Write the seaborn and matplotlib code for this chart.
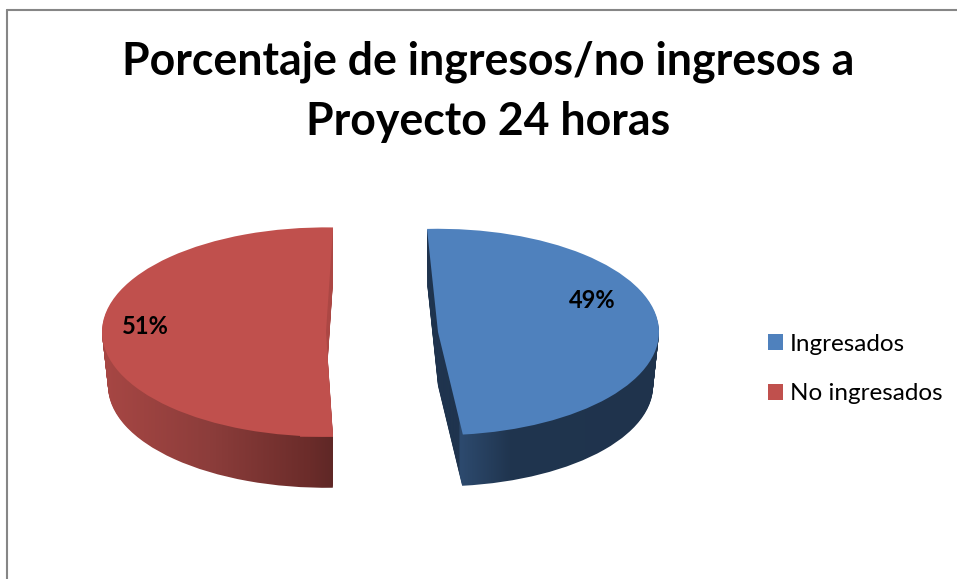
import numpy as np
import matplotlib
matplotlib.use("Agg")
import matplotlib.pyplot as plt
from matplotlib.lines import Line2D
from matplotlib.patches import Patch
from matplotlib.colors import to_rgb
import seaborn as sns

titulo = ["Porcentaje de ingresos/no ingresos a", "Proyecto 24 horas"]
categorias = ["Ingresados", "No ingresados"]
valores = [49, 51]
colores = ["#4F81BD", "#C0504D"]

# lado del pastel: posicion x y color
lado_azul_x = [425, 458, 460, 510, 660]
lado_azul = ["#1F344E", "#1F344E", "#2D4A6E", "#20354F", "#1F334C"]
lado_rojo_x = [100, 210, 310, 335]
lado_rojo = ["#A84744", "#8C3D3B", "#6B2C2A", "#5E2726"]
corte_rojo = "#AC4744"  # cara del corte, arriba de la rebanada roja

W, H = 957, 579
K = 0.467  # aplastamiento vertical del pastel
PROF = 54  # profundidad en pixeles


def py(y):
    return (H - y) / K


sns.set_theme(style="white")
plt.rcParams["font.family"] = ["Lato", "DejaVu Sans"]

fig = plt.figure(figsize=(W / 100, H / 100), dpi=100, facecolor="white")
ax = fig.add_axes([0, 0, 1, 1])


def rebanada(i, cx, cy, radio, inicio, lado_x, lado_c, corte=None):
    # se dibuja una sola rebanada, la otra queda invisible
    def pie(centro, r, color):
        orden = [color if j == i else "none" for j in range(len(valores))]
        w, _ = ax.pie(valores, colors=orden, center=centro, radius=r,
                      startangle=inicio, counterclock=False,
                      wedgeprops={"linewidth": 0})
        return w[i]

    grad = np.array([to_rgb(c) for c in lado_c])
    xs = np.arange(lado_x[0], lado_x[-1] + 1)
    fila = np.stack([np.interp(xs, lado_x, grad[:, c]) for c in range(3)], axis=-1)
    img = np.repeat(fila[None, :, :], H, axis=0)
    if corte is not None:
        img[:437, xs > 300] = to_rgb(corte)

    # capas del lado, de abajo hacia arriba
    for d in range(PROF, 0, -1):
        r = radio * (1 - 0.027 * d / PROF)
        w = pie((cx, py(cy + d)), r, "none")
        im = ax.imshow(img, extent=[lado_x[0], lado_x[-1], py(H), py(0)], aspect="auto",
                       zorder=2 + (PROF - d) * 0.01)
        im.set_clip_path(w)
    w = pie((cx, py(cy)), radio, colores[i])
    w.set_zorder(4)


# cada rebanada tiene su propio giro por la perspectiva del original
rebanada(0, 438, 332, 221, 92.85, lado_azul_x, lado_azul)
rebanada(1, 326, 332, 224, 88.2, lado_rojo_x, lado_rojo, corte_rojo)

ax.set_xlim(0, W)
ax.set_ylim(0, H / K)
ax.set_aspect("auto")
ax.axis("off")

fig.text(488 / W, 1 - 62 / H, titulo[0], ha="center", va="center",
         fontsize=32.1, fontweight="bold", color="black")
fig.text(488 / W, 1 - 122 / H, titulo[1], ha="center", va="center",
         fontsize=32.1, fontweight="bold", color="black")

fig.text(592 / W, 1 - 301 / H, f"{valores[0]}%", ha="center", va="center",
         fontsize=17, fontweight="bold", color="black", zorder=10)
fig.text(145 / W, 1 - 327 / H, f"{valores[1]}%", ha="center", va="center",
         fontsize=17, fontweight="bold", color="black", zorder=10)

handles = [Patch(facecolor=c, edgecolor="none") for c in colores]
fig.legend(handles, categorias, loc="center left", bbox_to_anchor=(746 / W, 1 - 369 / H),
           frameon=False, fontsize=17.5, handlelength=0.62, handleheight=0.62,
           handletextpad=0.3, labelspacing=1.17, labelcolor="black")

# marco del grafico
gris = "#868686"
fig.add_artist(Line2D([7 / W, 7 / W], [0, 1 - 10 / H], color=gris, lw=1.5))
fig.add_artist(Line2D([7 / W, 1], [1 - 10 / H, 1 - 10 / H], color=gris, lw=1.5))

fig.savefig("out.png", dpi=100, facecolor="white")
